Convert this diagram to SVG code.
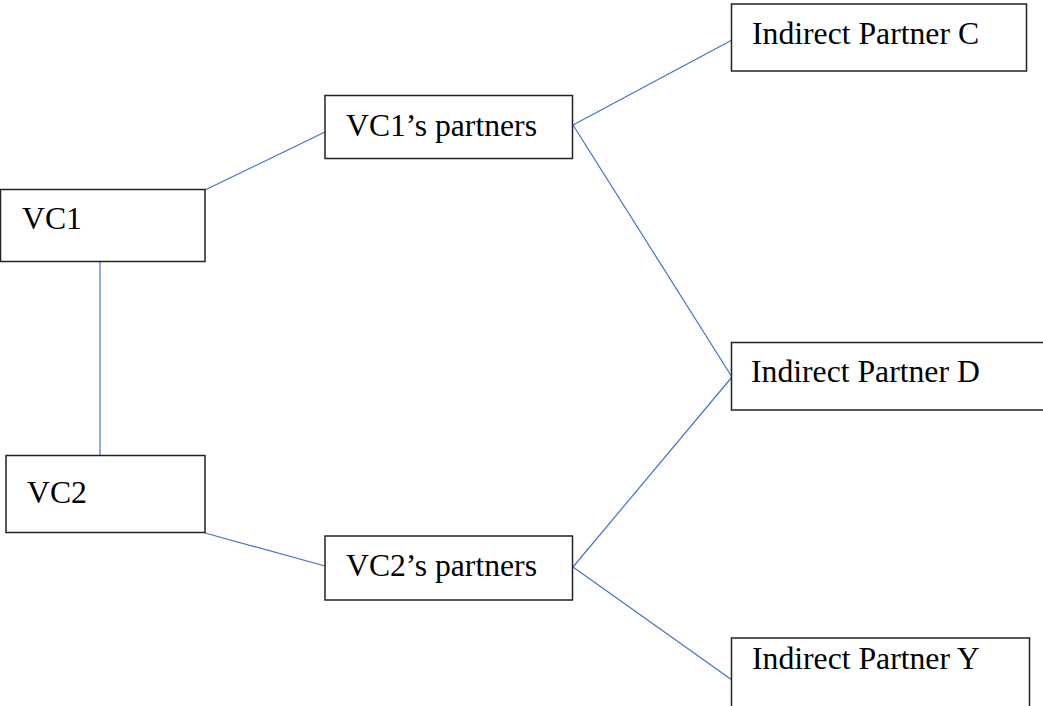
<svg xmlns="http://www.w3.org/2000/svg" width="1043" height="706" viewBox="0 0 1043 706">
<style>
.box{fill:#fff;stroke:#222;stroke-width:1.5}
.lbl{font-family:"Liberation Serif","Times New Roman",serif;font-size:31.7px;fill:#000}
.edge{stroke:#4472C4;stroke-width:1.2;fill:none}
</style>
<rect width="1043" height="706" fill="#fff"/>
<g id="connectors">
<line class="edge" x1="205" y1="190" x2="325" y2="132"/>
<line class="edge" x1="100" y1="262" x2="100" y2="455"/>
<line class="edge" x1="205" y1="533" x2="325" y2="566"/>
<line class="edge" x1="573" y1="125" x2="732" y2="40"/>
<line class="edge" x1="573" y1="125" x2="732" y2="377"/>
<line class="edge" x1="573" y1="567" x2="732" y2="377"/>
<line class="edge" x1="573" y1="567" x2="732" y2="680"/>
</g>
<g id="vc1">
<rect class="box" x="0.5" y="189.5" width="204.5" height="72"/>
<text class="lbl" x="22" y="229">VC1</text>
</g>
<g id="vc2">
<rect class="box" x="6" y="455.5" width="199" height="77"/>
<text class="lbl" x="27" y="503">VC2</text>
</g>
<g id="vc1p">
<rect class="box" x="325" y="95.5" width="247.5" height="63"/>
<text class="lbl" x="346" y="136">VC1’s partners</text>
</g>
<g id="vc2p">
<rect class="box" x="325" y="536" width="247.5" height="64"/>
<text class="lbl" x="346" y="576">VC2’s partners</text>
</g>
<g id="ipc">
<rect class="box" x="731.5" y="4" width="295" height="67"/>
<text class="lbl" x="752" y="44">Indirect Partner C</text>
</g>
<g id="ipd">
<rect class="box" x="731.5" y="342.5" width="313" height="67.5"/>
<text class="lbl" x="751" y="382">Indirect Partner D</text>
</g>
<g id="ipy">
<rect class="box" x="731.5" y="638" width="298" height="72"/>
<text class="lbl" x="752" y="669">Indirect Partner Y</text>
</g>
</svg>
